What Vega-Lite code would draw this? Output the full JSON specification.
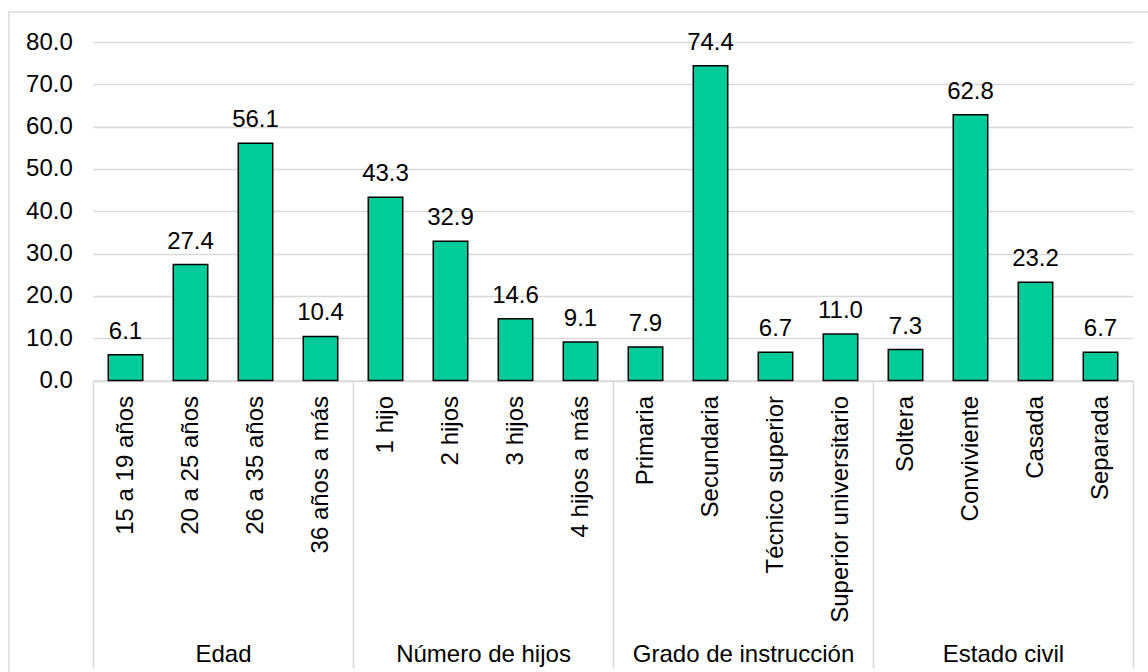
{
  "$schema": "https://vega.github.io/schema/vega-lite/v6.json",
  "width": 1140,
  "height": 661,
  "autosize": {"type": "none"},
  "padding": {"left": 9, "top": 12, "right": -1, "bottom": -1},
  "background": "white",
  "config": {
    "font": "Liberation Sans",
    "view": {"stroke": "#D9D9D9", "strokeWidth": 1.5},
    "axis": {"labelFont": "Liberation Sans", "labelColor": "#000000", "labelFontSize": 24, "title": null}
  },
  "data": {
    "values": [
      {"grupo": "Edad", "categoria": "15 a 19 años", "valor": 6.1},
      {"grupo": "Edad", "categoria": "20 a 25 años", "valor": 27.4},
      {"grupo": "Edad", "categoria": "26 a 35 años", "valor": 56.1},
      {"grupo": "Edad", "categoria": "36 años a más", "valor": 10.4},
      {"grupo": "Número de hijos", "categoria": "1 hijo", "valor": 43.3},
      {"grupo": "Número de hijos", "categoria": "2 hijos", "valor": 32.9},
      {"grupo": "Número de hijos", "categoria": "3 hijos", "valor": 14.6},
      {"grupo": "Número de hijos", "categoria": "4 hijos a más", "valor": 9.1},
      {"grupo": "Grado de instrucción", "categoria": "Primaria", "valor": 7.9},
      {"grupo": "Grado de instrucción", "categoria": "Secundaria", "valor": 74.4},
      {"grupo": "Grado de instrucción", "categoria": "Técnico superior", "valor": 6.7},
      {"grupo": "Grado de instrucción", "categoria": "Superior universitario", "valor": 11.0},
      {"grupo": "Estado civil", "categoria": "Soltera", "valor": 7.3},
      {"grupo": "Estado civil", "categoria": "Conviviente", "valor": 62.8},
      {"grupo": "Estado civil", "categoria": "Casada", "valor": 23.2},
      {"grupo": "Estado civil", "categoria": "Separada", "valor": 6.7}
    ]
  },
  "layer": [
    {
      "mark": {"type": "bar", "opacity": 0},
      "encoding": {
        "x": {
          "field": "grupo",
          "type": "nominal",
          "sort": null,
          "scale": {"range": [84, 1124], "paddingInner": 0, "paddingOuter": 0},
          "axis": {
            "orient": "bottom",
            "offset": -292.5,
            "domain": false,
            "grid": false,
            "ticks": true,
            "tickBand": "extent",
            "tickSize": 287.5,
            "tickColor": "#D9D9D9",
            "tickWidth": 1.5,
            "labelAngle": 0,
            "labelBaseline": "alphabetic",
            "labelPadding": -6.5,
            "labelOverlap": false,
            "labelLimit": 0
          }
        }
      }
    },
    {
      "encoding": {
        "x": {
          "field": "categoria",
          "type": "nominal",
          "sort": null,
          "scale": {"range": [84, 1124], "paddingInner": 0.47, "paddingOuter": 0.235},
          "axis": {
            "orient": "bottom",
            "offset": -292.5,
            "domain": true,
            "domainColor": "#D9D9D9",
            "domainWidth": 1.5,
            "grid": false,
            "ticks": false,
            "tickSize": 0,
            "labelAngle": -90,
            "labelPadding": 15,
            "labelOverlap": false,
            "labelLimit": 0
          }
        },
        "y": {
          "field": "valor",
          "type": "quantitative",
          "scale": {"domain": [0, 80], "range": [368.5, 30], "nice": false, "zero": true},
          "axis": {
            "orient": "left",
            "offset": -63.3,
            "values": [0, 10, 20, 30, 40, 50, 60, 70, 80],
            "format": ".1f",
            "domain": false,
            "ticks": false,
            "tickSize": 0,
            "labelPadding": 0,
            "grid": true,
            "gridColor": "#D9D9D9",
            "gridWidth": 1.5
          }
        }
      },
      "layer": [
        {"mark": {"type": "bar", "fill": "#00CC99", "stroke": "#000000", "strokeWidth": 1.5}},
        {
          "mark": {"type": "text", "baseline": "alphabetic", "dy": -16, "fontSize": 24, "color": "#000000", "font": "Liberation Sans"},
          "encoding": {"text": {"field": "valor", "type": "quantitative", "format": ".1f"}}
        }
      ]
    }
  ],
  "resolve": {"scale": {"x": "independent"}}
}
